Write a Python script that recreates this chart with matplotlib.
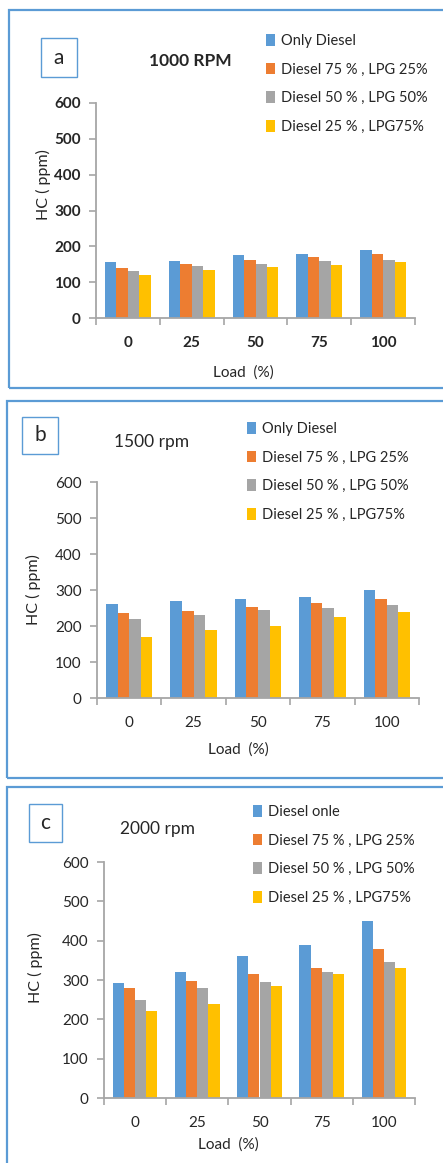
import matplotlib.pyplot as plt
import numpy as np
from matplotlib.patches import Rectangle

plt.rcParams['font.family'] = ['Lato', 'DejaVu Sans']

# load points on the x axis (%)
loads = ['0', '25', '50', '75', '100']

# HC emissions (ppm) at 1000 rpm
hc_1000_diesel = [155, 160, 175, 180, 190]
hc_1000_d75 = [140, 150, 162, 170, 178]
hc_1000_d50 = [132, 145, 150, 158, 163]
hc_1000_d25 = [121, 133, 142, 148, 156]

# HC emissions (ppm) at 1500 rpm
hc_1500_diesel = [260, 270, 275, 280, 300]
hc_1500_d75 = [235, 242, 254, 264, 276]
hc_1500_d50 = [220, 230, 245, 250, 258]
hc_1500_d25 = [170, 190, 200, 226, 238]

# HC emissions (ppm) at 2000 rpm
hc_2000_diesel = [292, 320, 360, 390, 450]
hc_2000_d75 = [280, 297, 316, 331, 380]
hc_2000_d50 = [249, 280, 295, 320, 346]
hc_2000_d25 = [220, 239, 285, 316, 331]

blend_labels = ['Only Diesel', 'Diesel 75 % , LPG 25%',
                'Diesel 50 % , LPG 50%', 'Diesel 25 % , LPG75%']
blend_labels_c = ['Diesel onle'] + blend_labels[1:]

colors = ['#5B9BD5', '#ED7D31', '#A5A5A5', '#FFC000']
frame_color = '#5B9BD5'
axis_color = '#A6A6A6'
text_color = '#262626'

W, H = 443, 1163
fig = plt.figure(figsize=(W / 100, H / 100), dpi=100)


def fx(x):
    return x / W


def fy(y):
    return 1 - y / H


def px_rect(x0, y0, x1, y1, lw):
    fig.patches.append(Rectangle((fx(x0), fy(y1)), (x1 - x0) / W, (y1 - y0) / H,
                                 transform=fig.transFigure, fill=False,
                                 edgecolor=frame_color, linewidth=lw))


def draw_panel(series, labels, axpos, frame, tag, tagbox, title, title_xy,
               title_bold, legend_xy, ylabel_xy, xlabel_xy, bold_ticks):
    left, top, right, bottom = axpos
    px_rect(*frame, lw=1.6)
    px_rect(*tagbox, lw=1.0)
    fig.text(fx((tagbox[0] + tagbox[2]) / 2), fy((tagbox[1] + tagbox[3]) / 2),
             tag, ha='center', va='center', fontsize=15, color=text_color)
    fig.text(fx(title_xy[0]), fy(title_xy[1]), title, ha='center', va='center',
             fontsize=12.5, fontweight='bold' if title_bold else 'normal',
             color=text_color)

    ax = fig.add_axes([fx(left), fy(bottom), (right - left) / W, (bottom - top) / H])
    x = np.arange(len(loads))
    w = 0.18
    for i, vals in enumerate(series):
        ax.bar(x + (i - 1.5) * w, vals, w, color=colors[i], label=labels[i])

    ax.set_xlim(-0.5, len(loads) - 0.5)
    ax.set_ylim(0, 600)
    ax.set_yticks(range(0, 601, 100))
    ax.set_xticks(x, loads)
    ax.set_xticks(np.arange(-0.5, len(loads)), minor=True)
    for s in ['top', 'right']:
        ax.spines[s].set_visible(False)
    for s in ['left', 'bottom']:
        ax.spines[s].set_color(axis_color)
        ax.spines[s].set_linewidth(1.3)
    weight = 'bold' if bold_ticks else 'normal'
    ax.tick_params(axis='x', which='major', length=0, pad=13, labelsize=11,
                   labelcolor=text_color)
    ax.tick_params(axis='x', which='minor', length=5, width=1.2, color=axis_color)
    ax.tick_params(axis='y', length=5, width=1.2, color=axis_color, pad=6,
                   labelsize=11, labelcolor=text_color)
    for lab in ax.get_xticklabels() + ax.get_yticklabels():
        lab.set_fontweight(weight)

    ax.legend(loc='upper left', bbox_to_anchor=(fx(legend_xy[0]), fy(legend_xy[1])),
              bbox_transform=fig.transFigure, frameon=False, fontsize=10.5,
              handlelength=0.65, handleheight=0.85, handletextpad=0.35,
              labelspacing=1.0, borderpad=0, borderaxespad=0, labelcolor=text_color)

    fig.text(fx(ylabel_xy[0]), fy(ylabel_xy[1]), 'HC ( ppm)', rotation=90,
             ha='center', va='center', fontsize=11.5, color=text_color)
    fig.text(fx(xlabel_xy[0]), fy(xlabel_xy[1]), 'Load  (%)', ha='center',
             va='center', fontsize=11, color=text_color)
    return ax


draw_panel([hc_1000_diesel, hc_1000_d75, hc_1000_d50, hc_1000_d25], blend_labels,
           axpos=(96, 103, 415, 318), frame=(9, 10, 470, 388),
           tag='a', tagbox=(41, 38, 77, 77), title='1000 RPM', title_xy=(190, 61),
           title_bold=True, legend_xy=(266, 34), ylabel_xy=(43, 185),
           xlabel_xy=(243, 373), bold_ticks=True)

draw_panel([hc_1500_diesel, hc_1500_d75, hc_1500_d50, hc_1500_d25], blend_labels,
           axpos=(97, 482, 419, 698), frame=(7, 401, 470, 778),
           tag='b', tagbox=(22, 417, 58, 454), title='1500 rpm', title_xy=(152, 442),
           title_bold=False, legend_xy=(247, 422), ylabel_xy=(33, 590),
           xlabel_xy=(238, 750), bold_ticks=False)

draw_panel([hc_2000_diesel, hc_2000_d75, hc_2000_d50, hc_2000_d25], blend_labels_c,
           axpos=(104, 862, 415, 1098), frame=(7, 787, 470, 1180),
           tag='c', tagbox=(29, 804, 62, 842), title='2000 rpm', title_xy=(158, 829),
           title_bold=False, legend_xy=(253, 805), ylabel_xy=(35, 968),
           xlabel_xy=(228, 1145), bold_ticks=False)

fig.savefig('out.png', dpi=100)
